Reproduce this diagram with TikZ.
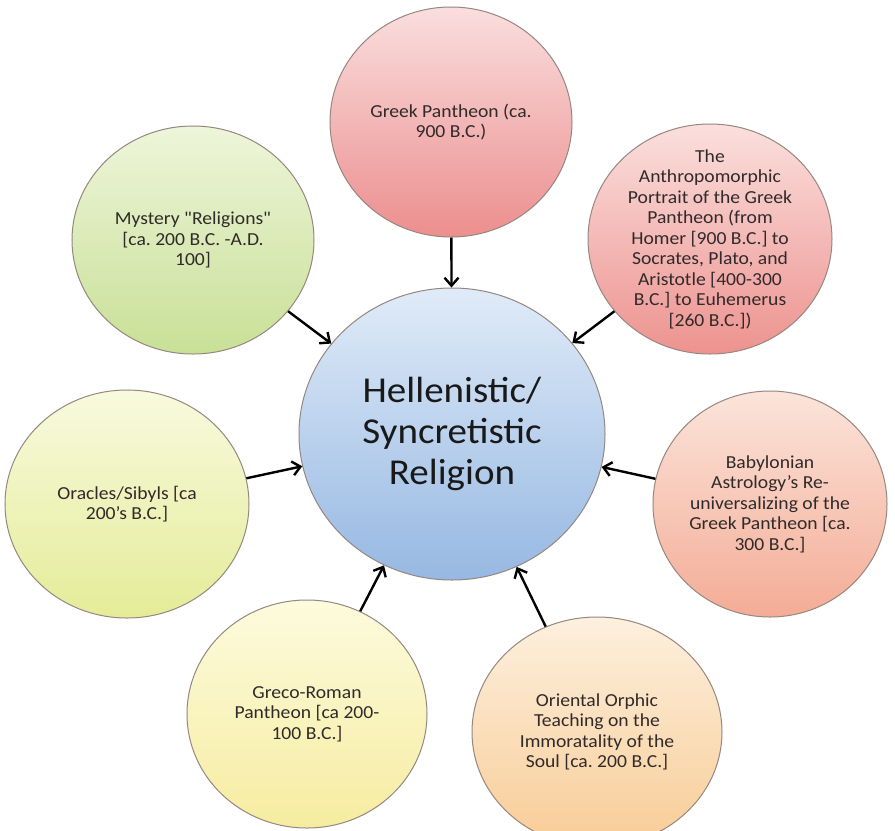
\documentclass[tikz,border=0pt]{standalone}
\usepackage{fontspec}
\setmainfont{Carlito}[Ligatures=TeXOff, FakeStretch=1.07]
\usetikzlibrary{shapes.geometric,arrows.meta}
\frenchspacing

\definecolor{discline}{RGB}{150,135,128}
\definecolor{txtgray}{RGB}{48,42,42}
\definecolor{hubtop}{RGB}{224,235,248}
\definecolor{hubbot}{RGB}{150,184,226}
\definecolor{redtop}{RGB}{250,222,222}
\definecolor{redbot}{RGB}{236,142,142}
\definecolor{peachtop}{RGB}{251,228,218}
\definecolor{peachbot}{RGB}{244,172,150}
\definecolor{orangetop}{RGB}{253,240,222}
\definecolor{orangebot}{RGB}{248,204,150}
\definecolor{yellowtop}{RGB}{253,251,222}
\definecolor{yellowbot}{RGB}{246,236,160}
\definecolor{limetop}{RGB}{248,250,222}
\definecolor{limebot}{RGB}{228,236,152}
\definecolor{greentop}{RGB}{238,245,218}
\definecolor{greenbot}{RGB}{200,224,150}

\begin{document}
\begin{tikzpicture}[x=0.5bp, y=-0.5bp,
  disc/.style={ellipse, draw=discline, line width=0.5bp, inner sep=0pt},
  small/.style={align=center, text=txtgray, font=\fontsize{9.2}{10.3}\selectfont},
  link/.style={-{Straight Barb[length=4bp,width=7bp]}, line width=1.2bp}]
\useasboundingbox (0,0) rectangle (895,831);
\clip (0,0) rectangle (895,831);
\fill[white] (0,0) rectangle (895,831);
% hub
\node[disc, minimum width=153bp, minimum height=146bp, top color=hubtop, bottom color=hubbot,
  label={[align=center, text=black!90, font=\fontsize{18.3}{20.5}\selectfont]center:Hellenistic/\\Syncretistic\\Religion}] (hub) at (452,434) {};
% the seven sources
\node[disc, minimum width=121bp, minimum height=115bp, top color=redtop, bottom color=redbot,
  label={[small]center:Greek Pantheon (ca.\\900 B.C.)}] (greek) at (451,122) {};
\node[disc, minimum width=122bp, minimum height=115bp, top color=redtop!80!peachtop, bottom color=redbot!85!peachbot,
  label={[small]center:The\\Anthropomorphic\\Portrait of the Greek\\Pantheon (from\\Homer [900 B.C.] to\\Socrates, Plato, and\\Aristotle [400-300\\B.C.] to Euhemerus\\{[260 B.C.])}}] (anthro) at (710,239) {};
\node[disc, minimum width=117bp, minimum height=113bp, top color=peachtop, bottom color=peachbot,
  label={[small]center:Babylonian\\Astrology’s Re-\\universalizing of the\\Greek Pantheon [ca.\\300 B.C.]}] (babylon) at (770,504) {};
\node[disc, minimum width=125bp, minimum height=115bp, top color=orangetop, bottom color=orangebot,
  label={[small]center:Oriental Orphic\\Teaching on the\\Immoratality of the\\Soul [ca. 200 B.C.]}] (orphic) at (597,732) {};
\node[disc, minimum width=120bp, minimum height=114bp, top color=yellowtop, bottom color=yellowbot,
  label={[small]center:Greco-Roman\\Pantheon [ca 200-\\100 B.C.]}] (greco) at (307,714) {};
\node[disc, minimum width=122bp, minimum height=114bp, top color=limetop, bottom color=limebot,
  label={[small]center:Oracles/Sibyls [ca\\200’s B.C.]}] (oracles) at (127,504) {};
\node[disc, minimum width=121bp, minimum height=114bp, top color=greentop, bottom color=greenbot,
  label={[small]center:Mystery "Religions"\\{[ca. 200 B.C. -A.D.}\\100]}] (mystery) at (193,240) {};
% arrows into the hub
\foreach \src in {greek,anthro,babylon,orphic,greco,oracles,mystery}
  \draw[link] (\src) -- (hub);
\end{tikzpicture}
\end{document}
